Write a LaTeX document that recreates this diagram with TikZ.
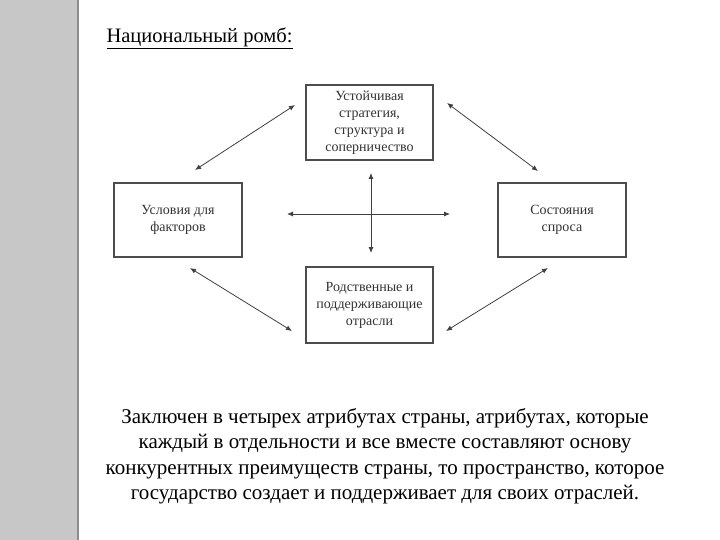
\documentclass[tikz,border=0pt]{standalone}
\usepackage{fontspec}
\setmainfont{Liberation Serif}
\usetikzlibrary{arrows.meta}
\begin{document}
\begin{tikzpicture}[x=1pt,y=-1pt,
  box/.style={draw=black!70,line width=1.2pt,fill=white,align=center,font=\fontsize{14}{17}\selectfont,text=black!80},
  arr/.style={{Latex[length=6pt,width=5pt]}-{Latex[length=6pt,width=5pt]},black!75,line width=0.8pt}]
\useasboundingbox (0,0) rectangle (720,540);
\fill[black!22] (0,0) rectangle (78,540);
\draw[black!45,line width=1.5pt] (78,0) -- (78,540);
\node[anchor=west,font=\fontsize{20.5}{24}\selectfont] (title) at (103,38) {\underline{Национальный ромб:}};
\node[box,minimum width=127,minimum height=75] (top) at (369.5,122.5) {Устойчивая\\стратегия,\\структура и\\соперничество};
\node[box,minimum width=128,minimum height=74] (left) at (178,220) {Условия для\\факторов};
\node[box,minimum width=128,minimum height=74] (right) at (562,220) {Состояния\\спроса};
\node[box,minimum width=127,minimum height=76] (bot) at (369.5,305) {Родственные и\\поддерживающие\\отрасли};
\coordinate (cu) at (371,173); \coordinate (cd) at (371,253);
\coordinate (cl) at (287,214); \coordinate (cr) at (450,214);
\draw[arr] (cu) -- (cd);
\draw[arr] (cl) -- (cr);
\coordinate (a1) at (195,170); \coordinate (a2) at (295,105);
\coordinate (b1) at (447,103); \coordinate (b2) at (538,171);
\coordinate (c1) at (190,268); \coordinate (c2) at (292,331);
\coordinate (d1) at (446,331); \coordinate (d2) at (548,268);
\draw[arr] (a1) -- (a2);
\draw[arr] (b1) -- (b2);
\draw[arr] (c1) -- (c2);
\draw[arr] (d1) -- (d2);
\node[align=center,font=\fontsize{21}{25.5}\selectfont] (txt) at (385,456) {Заключен в четырех атрибутах страны, атрибутах, которые\\каждый в отдельности и все вместе составляют основу\\конкурентных преимуществ страны, то пространство, которое\\государство создает и поддерживает для своих отраслей.};
\end{tikzpicture}
\end{document}
